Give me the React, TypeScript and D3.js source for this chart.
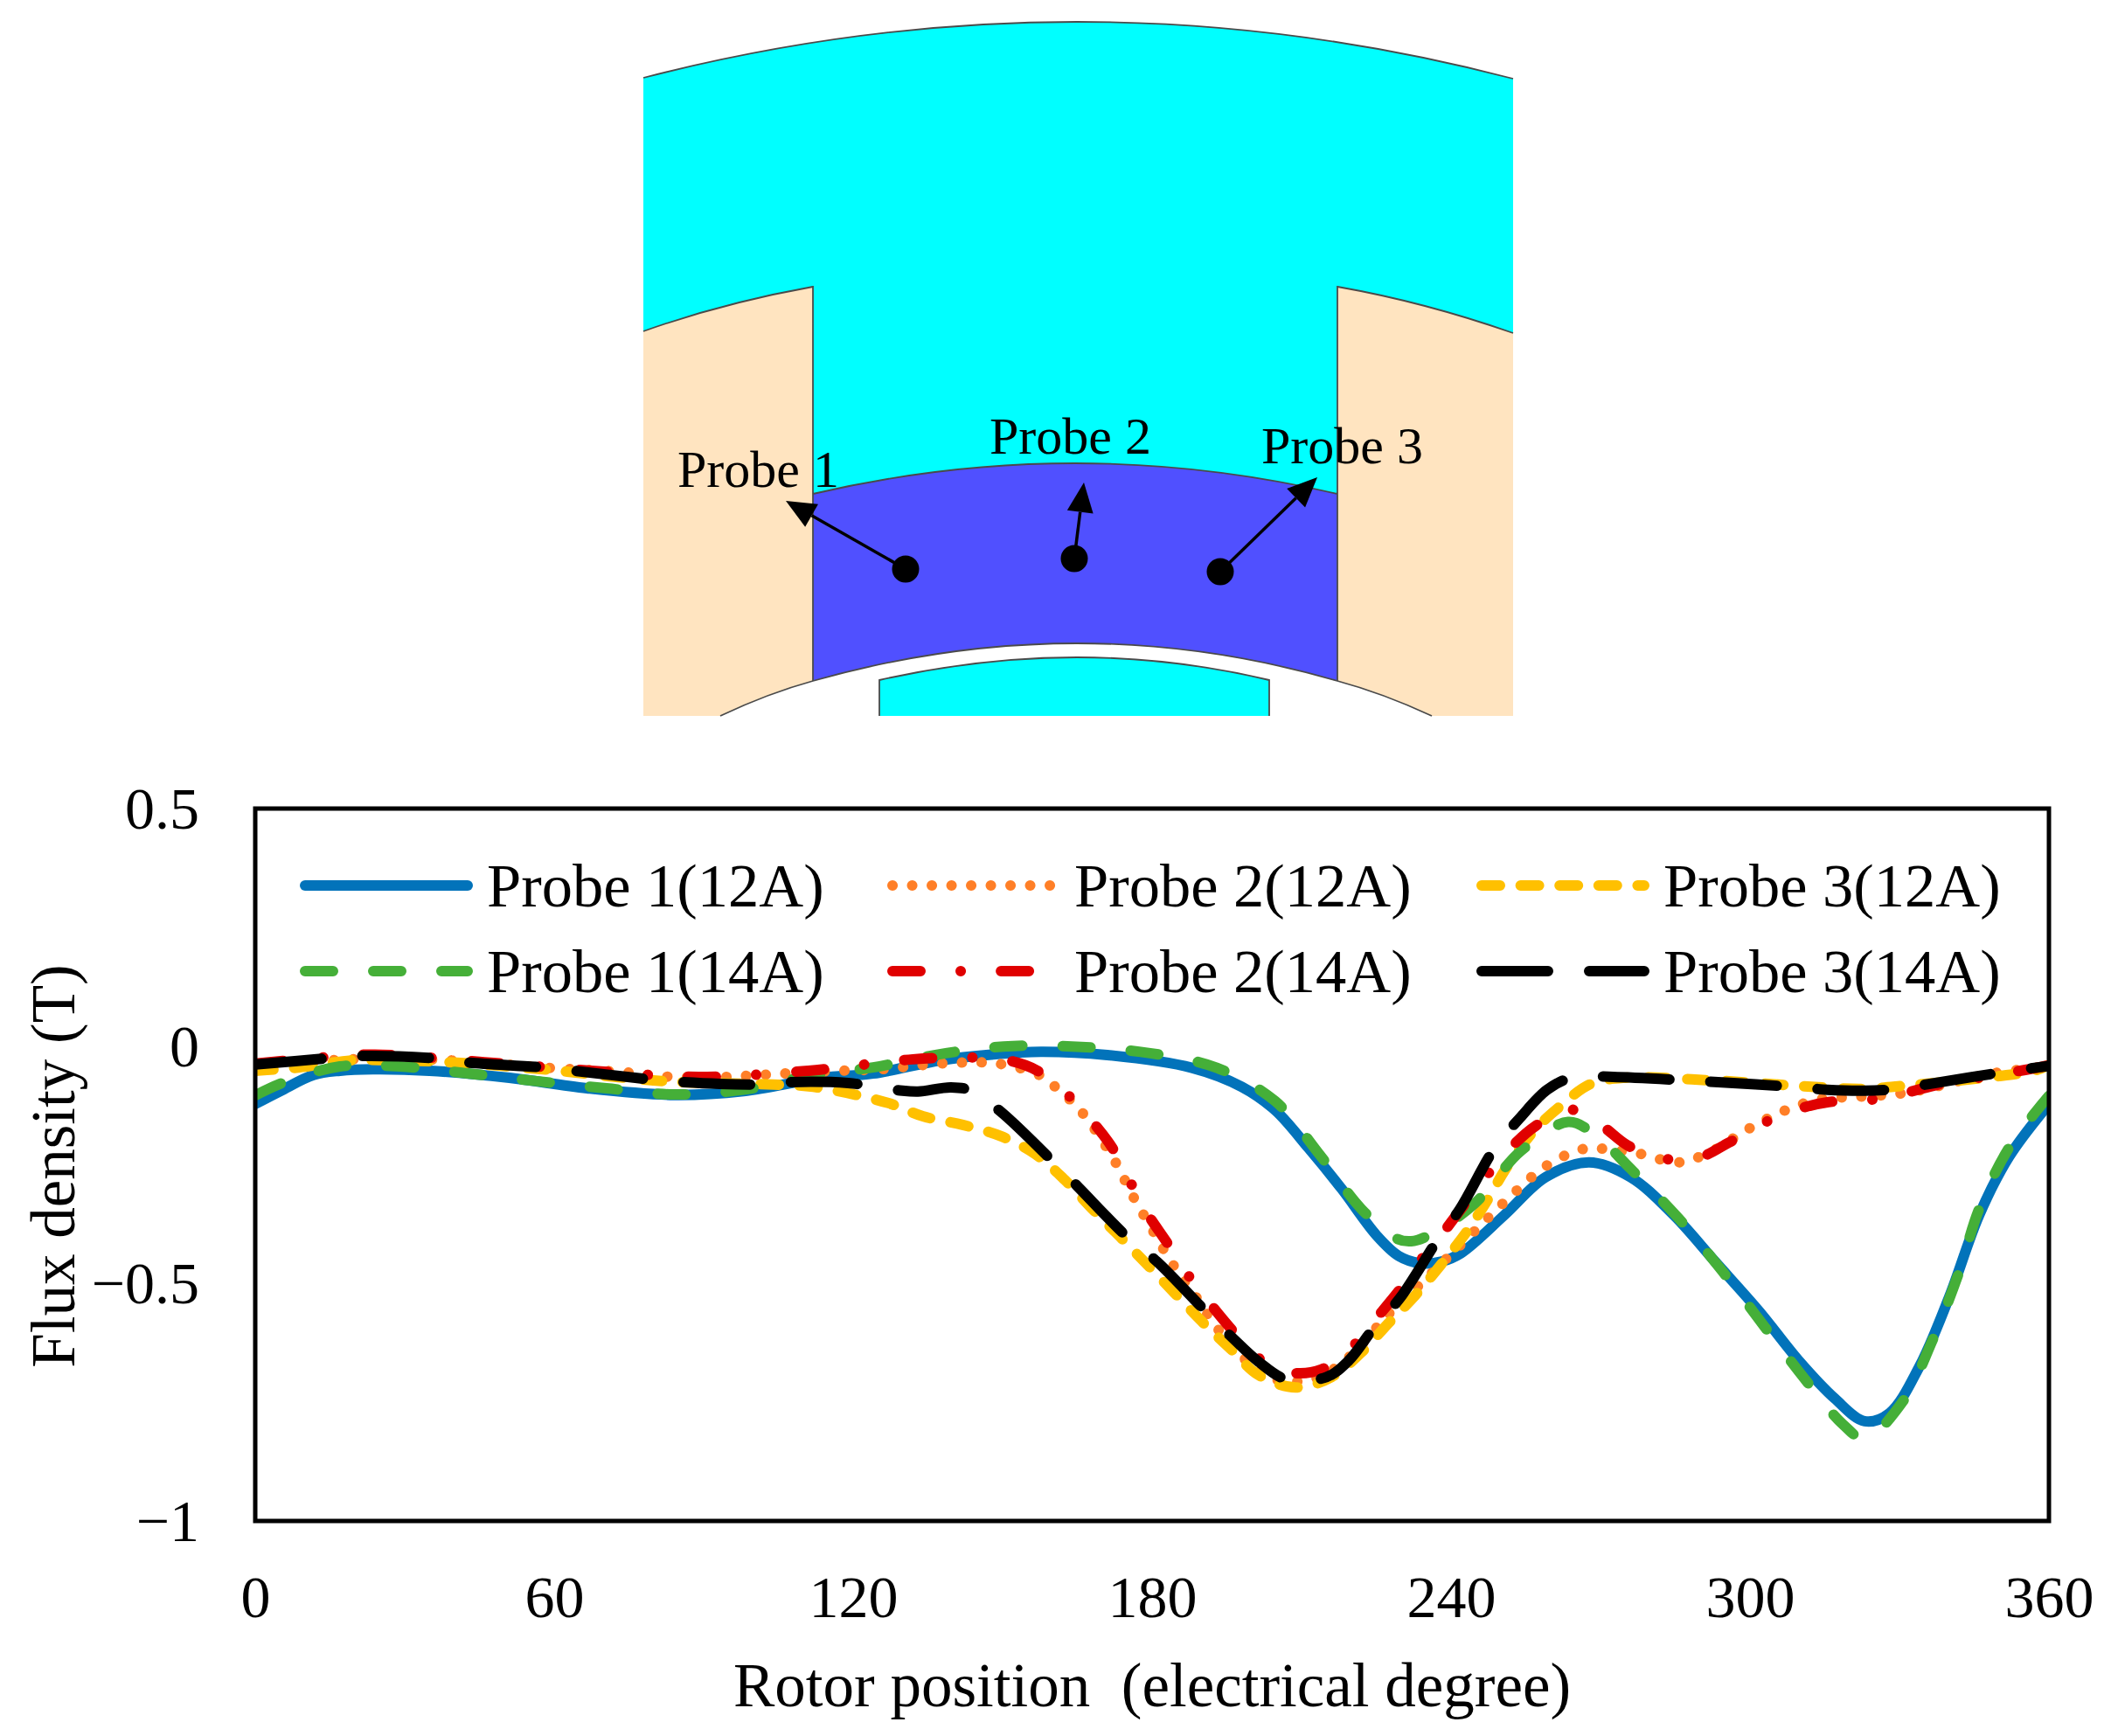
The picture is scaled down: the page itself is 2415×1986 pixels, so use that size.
import React, { useEffect, useRef } from 'react'
import * as d3 from 'd3'

type Pt = [number, number]

const WIDTH = 2415
const HEIGHT = 1986
const FONT = '"Liberation Serif", serif'

// x: electrical degree, y: flux density (T)
const probe1At12A: Pt[] = [[0, -0.122], [5, -0.095], [11.7, -0.061], [17, -0.052], [23.6, -0.049], [35, -0.052], [51, -0.067], [66.6, -0.089], [84, -0.103], [98, -0.095], [113.7, -0.067], [124, -0.058], [137.6, -0.03], [147.7, -0.018], [157.7, -0.012], [171, -0.019], [188, -0.046], [198, -0.086], [204.7, -0.135], [211.4, -0.215], [218, -0.3], [225, -0.398], [229.5, -0.442], [233.7, -0.457], [238, -0.454], [242, -0.436], [250.7, -0.356], [259, -0.276], [267.7, -0.245], [276, -0.276], [284.7, -0.356], [293, -0.454], [301.8, -0.558], [310, -0.665], [317, -0.742], [323, -0.79], [328, -0.773], [334, -0.675], [340, -0.528], [346, -0.356], [352, -0.233], [360, -0.122]]
const probe2At12A: Pt[] = [[0, -0.04], [19.6, -0.028], [39, -0.03], [58.8, -0.046], [74, -0.055], [82, -0.064], [94, -0.065], [106, -0.058], [117.5, -0.052], [125.6, -0.049], [133, -0.041], [141, -0.035], [149, -0.037], [157, -0.059], [160, -0.081], [165.8, -0.138], [172.4, -0.24], [176, -0.313], [180, -0.386], [184, -0.457], [188.6, -0.525], [193, -0.593], [198.4, -0.657], [204.7, -0.702], [212.8, -0.7], [219.4, -0.656], [227.5, -0.564], [230, -0.54], [235.8, -0.481], [241.8, -0.42], [247.4, -0.362], [253, -0.306], [259, -0.253], [266, -0.218], [270, -0.216], [278, -0.227], [285.6, -0.245], [292.4, -0.221], [299.6, -0.175], [306.5, -0.138], [314, -0.112], [321.7, -0.107], [331.6, -0.098], [348.6, -0.058], [360, -0.043]]
const probe3At12A: Pt[] = [[0, -0.052], [7.9, -0.046], [19.6, -0.03], [27.5, -0.03], [39, -0.034], [58.8, -0.05], [62.6, -0.054], [82, -0.074], [104, -0.081], [112, -0.086], [127, -0.12], [134, -0.148], [142, -0.166], [149.7, -0.19], [156.5, -0.227], [162.5, -0.282], [168, -0.343], [173.6, -0.402], [179, -0.46], [184.6, -0.521], [190, -0.58], [195.8, -0.638], [201.4, -0.693], [208.8, -0.719], [216, -0.697], [222, -0.645], [227.5, -0.583], [232.8, -0.525], [238, -0.46], [243, -0.393], [247.4, -0.323], [251, -0.258], [256.7, -0.178], [262, -0.126], [268, -0.08], [274.6, -0.067], [291.6, -0.072], [314.6, -0.087], [323, -0.09], [331.6, -0.083], [348.6, -0.065], [357, -0.052], [360, -0.04]]
const probe1At14A: Pt[] = [[0, -0.104], [5.6, -0.077], [17, -0.043], [29, -0.043], [43, -0.058], [56.5, -0.074], [70.5, -0.089], [84, -0.102], [98, -0.092], [112, -0.061], [124, -0.045], [138.6, -0.015], [152, 0], [165.8, -0.002], [179.6, -0.015], [193, -0.046], [204.7, -0.116], [213.5, -0.227], [222, -0.343], [229, -0.405], [232, -0.411], [236, -0.396], [244.7, -0.332], [254, -0.221], [263.5, -0.16], [268.6, -0.184], [276, -0.258], [285.6, -0.362], [294.6, -0.476], [303, -0.592], [311.6, -0.709], [318.7, -0.797], [323, -0.827], [330.7, -0.748], [336.6, -0.62], [341.8, -0.481], [346, -0.343], [352, -0.214], [360, -0.105]]
const probe2At14A: Pt[] = [[0, -0.037], [13.7, -0.024], [24, -0.018], [46, -0.034], [67.4, -0.052], [89, -0.065], [111, -0.052], [132, -0.028], [143, -0.024], [151, -0.03], [157, -0.052], [163, -0.102], [168, -0.159], [172, -0.214], [175.6, -0.286], [179, -0.352], [183, -0.414], [187, -0.479], [191.7, -0.543], [195.8, -0.595], [201, -0.654], [207.5, -0.687], [214, -0.681], [220, -0.635], [225, -0.573], [229.5, -0.516], [233.7, -0.454], [238.4, -0.393], [242, -0.343], [246.9, -0.276], [252, -0.214], [257, -0.168], [263.5, -0.133], [270, -0.166], [275.4, -0.209], [282, -0.236], [289.4, -0.236], [295.8, -0.203], [302, -0.166], [309, -0.135], [315.8, -0.118], [322.8, -0.115], [330, -0.102], [337, -0.083], [348.6, -0.062], [358, -0.045], [360, -0.04]]
const probe3At14A: Pt[] = [[0, -0.039], [14.5, -0.026], [21, -0.021], [36, -0.026], [42, -0.034], [57.5, -0.045], [63.8, -0.052], [79, -0.07], [85.5, -0.076], [100.7, -0.081], [107, -0.076], [119, -0.078], [129, -0.093], [133, -0.096], [139.6, -0.087], [143.7, -0.094], [149.6, -0.138], [159.8, -0.24], [165, -0.295], [175, -0.402], [181, -0.454], [190.7, -0.558], [196, -0.613], [201.4, -0.665], [207, -0.702], [215, -0.697], [219.4, -0.663], [224.6, -0.592], [229.8, -0.53], [237.5, -0.405], [241.8, -0.343], [248.8, -0.214], [253.7, -0.153], [259.3, -0.092], [264.7, -0.065], [272.5, -0.065], [286.8, -0.072], [293.6, -0.076], [308.6, -0.086], [315.5, -0.092], [323, -0.094], [329.8, -0.09], [337, -0.078], [351.5, -0.054], [360, -0.042]]

const xTicks = [0, 60, 120, 180, 240, 300, 360]
const yTicks = [0.5, 0, -0.5, -1]

// drawn in this order, the last one on top; legend is 3 columns, 2 rows
const seriesNames = ['Probe 1(12A)', 'Probe 2(12A)', 'Probe 3(12A)', 'Probe 1(14A)', 'Probe 2(14A)', 'Probe 3(14A)']
const seriesData = [probe1At12A, probe2At12A, probe3At12A, probe1At14A, probe2At14A, probe3At14A]
const seriesColors = ['#0273BA', '#FF7F27', '#FFC000', '#45AF38', '#E00000', '#000000']
const seriesDash = ['none', '0.1 22.4', '21 23.6', '32 46', '32 46 0.1 46', '76 47']
const legendColumn = [0, 1, 2, 0, 1, 2]
const legendRow = [0, 0, 0, 1, 1, 1]

// probe sketch above the chart, in page pixels
const probeLabels = ['Probe 1', 'Probe 2', 'Probe 3']
const probeLabelPos: Pt[] = [[775, 557], [1132, 519], [1443, 530]]
const probeDots: Pt[] = [[1036, 651], [1229, 639], [1396, 654]]
const probeTips: Pt[] = [[899, 573], [1240, 552], [1507, 546]]

const arcPath = (p: d3.Path | any, a: Pt, mid: Pt, b: Pt) => {
    // quadratic through three points
    const cx = 2 * mid[0] - (a[0] + b[0]) / 2
    const cy = 2 * mid[1] - (a[1] + b[1]) / 2
    p.quadraticCurveTo(cx, cy, b[0], b[1])
}

const drawSketch = (g: any) => {
    const stroke = '#4a4a4a'
    const cyan = '#00FFFF'
    const beige = '#FFE4C0'

    const stator = d3.path()
    stator.moveTo(736, 89)
    arcPath(stator, [736, 89], [1234, 25], [1731, 90])
    stator.lineTo(1731, 381)
    arcPath(stator, [1731, 381], [1630, 350], [1530, 328])
    stator.lineTo(1530, 565)
    arcPath(stator, [1530, 565], [1230, 530], [930, 565])
    stator.lineTo(930, 328)
    arcPath(stator, [930, 328], [830, 350], [736, 379])
    stator.closePath()
    g.append('path').attr('d', stator.toString()).attr('fill', cyan).attr('stroke', 'none')

    const left = d3.path()
    left.moveTo(736, 379)
    arcPath(left, [736, 379], [830, 350], [930, 328])
    left.lineTo(930, 779)
    arcPath(left, [930, 779], [878, 796], [824, 819])
    left.lineTo(736, 819)
    left.closePath()
    g.append('path').attr('d', left.toString()).attr('fill', beige)

    const right = d3.path()
    right.moveTo(1731, 381)
    arcPath(right, [1731, 381], [1630, 350], [1530, 328])
    right.lineTo(1530, 779)
    arcPath(right, [1530, 779], [1583, 796], [1638, 819])
    right.lineTo(1731, 819)
    right.closePath()
    g.append('path').attr('d', right.toString()).attr('fill', beige)

    const slot = d3.path()
    slot.moveTo(930, 565)
    arcPath(slot, [930, 565], [1230, 530], [1530, 565])
    slot.lineTo(1530, 779)
    arcPath(slot, [1530, 779], [1232, 736], [930, 779])
    slot.closePath()
    g.append('path').attr('d', slot.toString()).attr('fill', '#5050FF')

    const magnet = d3.path()
    magnet.moveTo(1006, 819)
    magnet.lineTo(1006, 778)
    arcPath(magnet, [1006, 778], [1232, 752], [1452, 778])
    magnet.lineTo(1452, 819)
    magnet.closePath()
    g.append('path').attr('d', magnet.toString()).attr('fill', cyan)

    // thin outlines
    const outline = d3.path()
    outline.moveTo(736, 89)
    arcPath(outline, [736, 89], [1234, 25], [1731, 90])
    outline.moveTo(736, 379)
    arcPath(outline, [736, 379], [830, 350], [930, 328])
    outline.lineTo(930, 779)
    outline.moveTo(1731, 381)
    arcPath(outline, [1731, 381], [1630, 350], [1530, 328])
    outline.lineTo(1530, 779)
    outline.moveTo(930, 565)
    arcPath(outline, [930, 565], [1230, 530], [1530, 565])
    outline.moveTo(824, 819)
    arcPath(outline, [824, 819], [878, 796], [930, 779])
    arcPath(outline, [930, 779], [1232, 736], [1530, 779])
    arcPath(outline, [1530, 779], [1583, 796], [1638, 819])
    outline.moveTo(1006, 819)
    outline.lineTo(1006, 778)
    arcPath(outline, [1006, 778], [1232, 752], [1452, 778])
    outline.lineTo(1452, 819)
    g.append('path').attr('d', outline.toString()).attr('fill', 'none').attr('stroke', stroke).attr('stroke-width', 1.8)

    probeDots.forEach((dot, i) => {
        const tip = probeTips[i]
        const angle = Math.atan2(tip[1] - dot[1], tip[0] - dot[0])
        const ux = Math.cos(angle), uy = Math.sin(angle)
        const len = 34, half = 15
        const bx = tip[0] - ux * len, by = tip[1] - uy * len
        g.append('line').attr('x1', dot[0]).attr('y1', dot[1]).attr('x2', bx).attr('y2', by)
            .attr('stroke', '#000').attr('stroke-width', 3.5)
        g.append('path')
            .attr('d', d3.line()([tip, [bx - uy * half, by + ux * half], [bx + uy * half, by - ux * half]]) + 'Z')
            .attr('fill', '#000')
        g.append('circle').attr('cx', dot[0]).attr('cy', dot[1]).attr('r', 15.5).attr('fill', '#000')
    })

    g.selectAll('text.probe').data(probeLabels).join('text')
        .attr('class', 'probe')
        .attr('x', (_: string, i: number) => probeLabelPos[i][0])
        .attr('y', (_: string, i: number) => probeLabelPos[i][1])
        .attr('font-family', FONT).attr('font-size', 60).attr('fill', '#000')
        .text((d: string) => d)
}

const drawChart = (g: any) => {
    const left = 292, right = 2344, top = 925, bottom = 1740
    const x = d3.scaleLinear().domain([0, 360]).range([left, right])
    const y = d3.scaleLinear().domain([-1, 0.5]).range([bottom, top])

    const lineGen = d3.line<Pt>()
        .x(d => x(d[0]))
        .y(d => y(d[1]))
        .curve(d3.curveCatmullRom.alpha(0.5))

    g.append('clipPath').attr('id', 'plot_clip')
        .append('rect').attr('x', left).attr('y', top).attr('width', right - left).attr('height', bottom - top)

    const lines = g.append('g').attr('clip-path', 'url(#plot_clip)')
    seriesData.forEach((points, i) => {
        lines.append('path')
            .attr('d', lineGen(points))
            .attr('fill', 'none')
            .attr('stroke', seriesColors[i])
            .attr('stroke-width', 12)
            .attr('stroke-linecap', 'round')
            .attr('stroke-linejoin', 'round')
            .attr('stroke-dasharray', seriesDash[i])
    })

    g.append('rect')
        .attr('x', left).attr('y', top).attr('width', right - left).attr('height', bottom - top)
        .attr('fill', 'none').attr('stroke', '#000').attr('stroke-width', 5)

    const xAxis = g.append('g').attr('transform', `translate(0,${bottom})`)
        .call(d3.axisBottom(x).tickValues(xTicks).tickSize(0).tickFormat(d3.format('d') as any))
    xAxis.select('.domain').remove()
    xAxis.selectAll('text').attr('y', 110).attr('dy', 0)

    const yAxis = g.append('g').attr('transform', `translate(${left},0)`)
        .call(d3.axisLeft(y).tickValues(yTicks).tickSize(0).tickPadding(64).tickFormat(d3.format('') as any))
    yAxis.select('.domain').remove()
    yAxis.selectAll('text').attr('dy', '0.33em')

    g.selectAll('.tick text').attr('font-family', FONT).attr('font-size', 68).attr('fill', '#000')

    g.append('text').attr('x', 839).attr('y', 1952)
        .attr('font-family', FONT).attr('font-size', 71).attr('fill', '#000')
        .style('white-space', 'pre')
        .text('Rotor position  (electrical degree)')

    g.append('text').attr('transform', 'translate(85,1334) rotate(-90)')
        .attr('text-anchor', 'middle')
        .attr('font-family', FONT).attr('font-size', 71).attr('fill', '#000')
        .text('Flux density (T)')

    // legend
    const colX = [343, 1015, 1689]
    const rowY = [1013, 1111]
    seriesNames.forEach((name, i) => {
        const cx = colX[legendColumn[i]]
        const ry = rowY[legendRow[i]]
        g.append('line')
            .attr('x1', cx + 6).attr('x2', cx + 192).attr('y1', ry).attr('y2', ry)
            .attr('stroke', seriesColors[i]).attr('stroke-width', 12)
            .attr('stroke-linecap', 'round').attr('stroke-dasharray', seriesDash[i])
        g.append('text').attr('x', cx + 214).attr('y', ry + 23.5)
            .attr('font-family', FONT).attr('font-size', 70.5).attr('fill', '#000')
            .text(name)
    })
}

export default function App() {
    const svgRef = useRef<SVGSVGElement | null>(null)

    useEffect(() => {
        if (svgRef.current === null) {
            return
        }
        const svg = d3.select(svgRef.current)
        svg.selectAll('*').remove()
        drawSketch(svg.append('g').attr('id', 'sketch'))
        drawChart(svg.append('g').attr('id', 'chart'))
    }, [])

    return (
        <svg
            ref={svgRef}
            width={WIDTH}
            height={HEIGHT}
            viewBox={`0 0 ${WIDTH} ${HEIGHT}`}
            style={{ position: 'absolute', left: 0, top: 0, background: '#fff' }}
        />
    )
}
